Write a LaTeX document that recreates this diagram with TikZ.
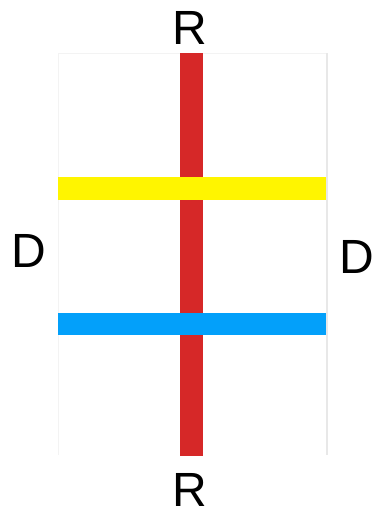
\documentclass[tikz,border=0pt]{standalone}
\usepackage{fontspec}
\setmainfont{Liberation Sans}
\definecolor{barred}{RGB}{214,40,40}
\definecolor{baryellow}{RGB}{255,245,0}
\definecolor{barblue}{RGB}{3,160,250}
\definecolor{framegray}{RGB}{243,243,243}
\definecolor{framegraydark}{RGB}{232,232,232}
\begin{document}
\begin{tikzpicture}[x=1pt,y=-1pt,
  lbl/.style={font=\fontsize{48}{52}\selectfont, inner sep=0pt, text height=34pt, text depth=0pt, anchor=center}]
\useasboundingbox (0,0) rectangle (375,515);
% faint frame
\draw[framegray, line width=1pt] (58,455) -- (58,53) -- (327,53);
\draw[framegraydark, line width=1.5pt] (327,53) -- (327,455);
% red vertical bar
\fill[barred] (180,53) rectangle (203,456);
% yellow and blue horizontal bars
\fill[baryellow] (58,177) rectangle (326,200);
\fill[barblue] (58,313) rectangle (326,335);
% labels
\node[lbl] (rtop) at (190,27) {R};
\node[lbl] (rbot) at (190,489) {R};
\node[lbl] (dleft) at (29,250) {D};
\node[lbl] (dright) at (357,256) {D};
\end{tikzpicture}
\end{document}
